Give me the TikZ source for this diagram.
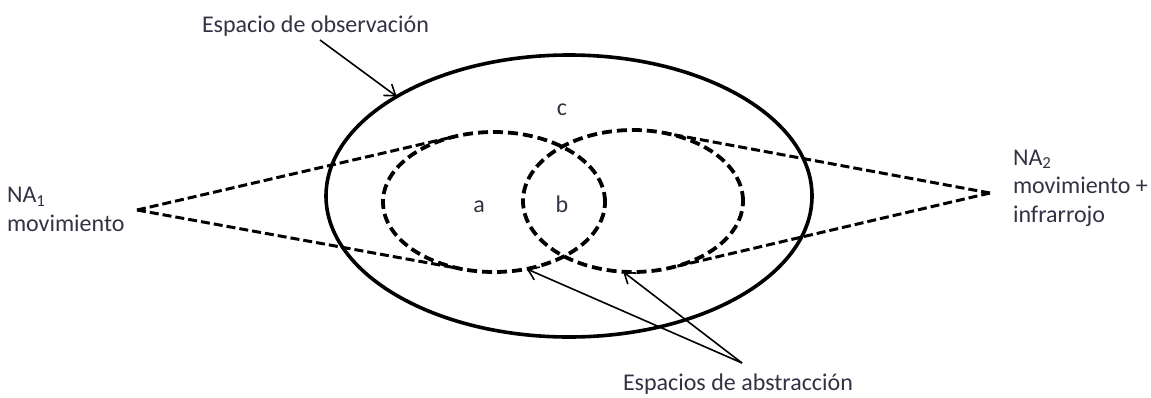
\documentclass[tikz,border=0pt]{standalone}
\usepackage{fontspec}
\setmainfont{Carlito}
\usetikzlibrary{arrows.meta,shapes.geometric}
\definecolor{txt}{RGB}{50,50,68}
\begin{document}
\begin{tikzpicture}[x=1pt,y=-1pt,
  lbl/.style={font=\fontsize{24}{28.5}\selectfont, text=txt, inner sep=0pt, outer sep=0pt},
  obsell/.style={ellipse, draw, line width=3.6pt, inner sep=0pt, outer sep=0pt},
  absell/.style={ellipse, draw, line width=3.8pt, dash pattern=on 10pt off 5pt, inner sep=0pt, outer sep=0pt},
  cone/.style={line width=3pt, dash pattern=on 9pt off 4pt},
  ptr/.style={line width=1.6pt, -{Straight Barb[length=10pt,width=14pt,line width=1.6pt]}}]
\useasboundingbox (0,0) rectangle (1151,397);

% observation space and abstraction spaces
\node[obsell, minimum width=486pt, minimum height=282pt] (obs) at (569,196) {};
\node[absell, minimum width=222pt, minimum height=140pt] (absL) at (494,202) {};
\node[absell, minimum width=220pt, minimum height=142pt] (absR) at (633,201) {};

% region letters
\node[lbl, anchor=base] (la) at (479,212) {a};
\node[lbl, anchor=base] (lb) at (562,212) {b};
\node[lbl, anchor=base] (lc) at (562,115) {c};

% abstraction-level labels
\node[lbl, anchor=base west, align=left] (na1) at (7,231) {NA\textsubscript{1}\\movimiento};
\node[lbl, anchor=base west, align=left] (na2) at (1013,222) {NA\textsubscript{2}\\movimiento +\\infrarrojo};
\coordinate (apexL) at (137,210);
\coordinate (apexR) at (990,193);

% cones
\draw[cone] (apexL) -- (absL.120.2);
\draw[cone] (apexL) -- (absL.245.5);
\draw[cone] (apexR) -- (absR.66.1);
\draw[cone] (apexR) -- (absR.299.3);

% annotation labels and pointers
\node[lbl, anchor=base west] (obslbl) at (202,32) {Espacio de observación};
\node[lbl, anchor=base west] (abslbl) at (623,390) {Espacios de abstracción};
\coordinate (obsfrom) at (320,40);
\coordinate (absfrom) at (742,363);
\draw[ptr] (obsfrom) -- (obs.150.3);
\draw[ptr] (absfrom) -- (absL.296.6);
\draw[ptr] (absfrom) -- (absR.262);
\end{tikzpicture}
\end{document}
